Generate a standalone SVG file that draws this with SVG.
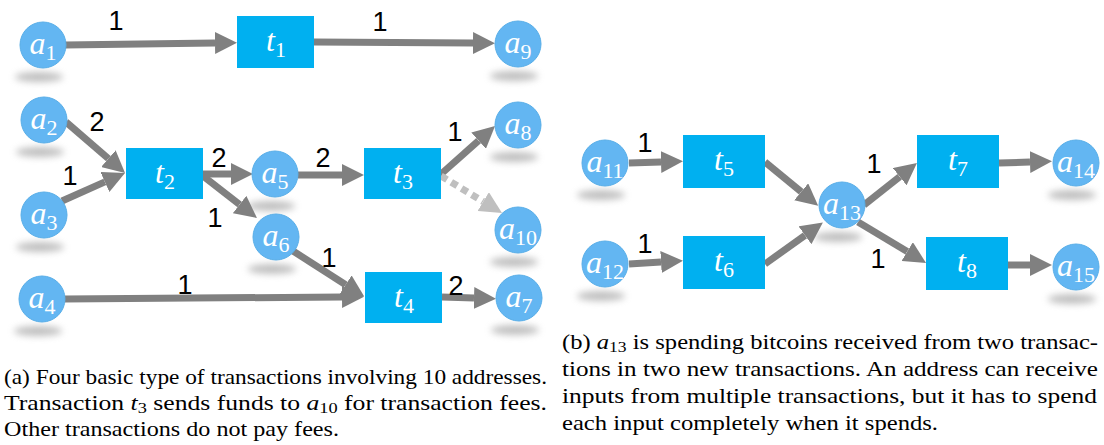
<svg xmlns="http://www.w3.org/2000/svg" width="1104" height="445" viewBox="0 0 1104 445">
<style>
.n{fill:#63b6f2;stroke:#58aee8;stroke-width:1}
.r{fill:#00b0f0}
.sh{fill:#8a8a8a;opacity:0.55;filter:url(#blur)}
.e{stroke:#808080;stroke-width:7;fill:none;marker-end:url(#ah)}
.d{stroke:#bfbfbf;stroke-width:7;fill:none;stroke-dasharray:7 5;marker-end:url(#ahl)}
.lab{font-family:"Liberation Sans",Arial,sans-serif;font-size:27px;fill:#000;text-anchor:middle}
.m{font-family:"Liberation Serif","DejaVu Serif",serif;font-style:italic;font-size:32px;fill:#fff;text-anchor:middle}
.s{font-style:normal;font-size:22px}
.cap{font-family:"Liberation Serif","DejaVu Serif",serif;font-size:21px;fill:#000}
.ci{font-style:italic}
.cs{font-size:15px}
</style>
<defs>
<filter id="blur" x="-50%" y="-100%" width="200%" height="300%"><feGaussianBlur stdDeviation="3.5"/></filter>
<marker id="ah" markerUnits="userSpaceOnUse" markerWidth="22" markerHeight="22" refX="0" refY="11" orient="auto"><path d="M0,0 L22,11 L0,22 z" fill="#808080"/></marker>
<marker id="ahl" markerUnits="userSpaceOnUse" markerWidth="22" markerHeight="22" refX="0" refY="11" orient="auto"><path d="M0,0 L22,11 L0,22 z" fill="#bfbfbf"/></marker>
</defs>

<g id="shadows">
<ellipse class="sh" cx="39" cy="77" rx="24" ry="5"/>
<ellipse class="sh" cx="514" cy="76" rx="24" ry="5"/>
<ellipse class="sh" cx="40" cy="152" rx="24" ry="5"/>
<ellipse class="sh" cx="40" cy="247" rx="24" ry="5"/>
<ellipse class="sh" cx="38" cy="331" rx="24" ry="5"/>
<ellipse class="sh" cx="271" cy="206" rx="24" ry="5"/>
<ellipse class="sh" cx="272" cy="269" rx="24" ry="5"/>
<ellipse class="sh" cx="514" cy="157" rx="24" ry="5"/>
<ellipse class="sh" cx="514" cy="262" rx="24" ry="5"/>
<ellipse class="sh" cx="515" cy="330" rx="24" ry="5"/>
<ellipse class="sh" cx="601" cy="195" rx="24" ry="5"/>
<ellipse class="sh" cx="601" cy="296" rx="24" ry="5"/>
<ellipse class="sh" cx="838" cy="237" rx="24" ry="5"/>
<ellipse class="sh" cx="1072" cy="195" rx="24" ry="5"/>
<ellipse class="sh" cx="1072" cy="299" rx="24" ry="5"/>
</g>

<g id="connectors">
<line class="e" x1="65" y1="45" x2="215" y2="43"/>
<line class="e" x1="314" y1="42" x2="473" y2="43"/>
<line class="e" x1="66" y1="122" x2="108.4" y2="158.6"/>
<line class="e" x1="62" y1="201" x2="104.9" y2="181.9"/>
<line class="e" x1="203" y1="174" x2="231" y2="174"/>
<line class="e" x1="203" y1="176" x2="239.6" y2="204.5"/>
<line class="e" x1="298" y1="175" x2="342" y2="175"/>
<line class="e" x1="440" y1="175" x2="478.6" y2="140.6"/>
<line class="d" x1="441" y1="176" x2="483.2" y2="201.6"/>
<line class="e" x1="65" y1="299" x2="342" y2="297"/>
<line class="e" x1="293" y1="251" x2="345.7" y2="284.7"/>
<line class="e" x1="442" y1="297" x2="474" y2="298"/>
<line class="e" x1="629" y1="163" x2="661" y2="162"/>
<line class="e" x1="629" y1="264" x2="661" y2="262"/>
<line class="e" x1="765" y1="162" x2="801.2" y2="191.8"/>
<line class="e" x1="765" y1="264" x2="805" y2="235.3"/>
<line class="e" x1="864" y1="205" x2="899.7" y2="176.7"/>
<line class="e" x1="858" y1="222" x2="907.2" y2="251.6"/>
<line class="e" x1="999" y1="163" x2="1030" y2="162"/>
<line class="e" x1="1008" y1="265" x2="1030" y2="265"/>
</g>

<g id="labels">
<text class="lab" x="116" y="30">1</text>
<text class="lab" x="380" y="31">1</text>
<text class="lab" x="97" y="131">2</text>
<text class="lab" x="70" y="185">1</text>
<text class="lab" x="219" y="167">2</text>
<text class="lab" x="215" y="227">1</text>
<text class="lab" x="323" y="167">2</text>
<text class="lab" x="455" y="141">1</text>
<text class="lab" x="329" y="267">1</text>
<text class="lab" x="185" y="294">1</text>
<text class="lab" x="456" y="295">2</text>
<text class="lab" x="645" y="152">1</text>
<text class="lab" x="645" y="253">1</text>
<text class="lab" x="874" y="173">1</text>
<text class="lab" x="878" y="268">1</text>
</g>

<g id="a1"><circle class="n" cx="43" cy="45" r="23"/><text class="m" x="43" y="54">a<tspan class="s" dy="6">1</tspan></text></g>
<g id="a9"><circle class="n" cx="518" cy="44" r="23"/><text class="m" x="518" y="53">a<tspan class="s" dy="6">9</tspan></text></g>
<g id="a2"><circle class="n" cx="44" cy="120" r="23"/><text class="m" x="44" y="129">a<tspan class="s" dy="6">2</tspan></text></g>
<g id="a3"><circle class="n" cx="44" cy="215" r="23"/><text class="m" x="44" y="224">a<tspan class="s" dy="6">3</tspan></text></g>
<g id="a4"><circle class="n" cx="42" cy="299" r="23"/><text class="m" x="42" y="308">a<tspan class="s" dy="6">4</tspan></text></g>
<g id="a5"><circle class="n" cx="275" cy="174" r="23"/><text class="m" x="275" y="183">a<tspan class="s" dy="6">5</tspan></text></g>
<g id="a6"><circle class="n" cx="276" cy="237" r="23"/><text class="m" x="276" y="246">a<tspan class="s" dy="6">6</tspan></text></g>
<g id="a8"><circle class="n" cx="518" cy="125" r="23"/><text class="m" x="518" y="134">a<tspan class="s" dy="6">8</tspan></text></g>
<g id="a10"><circle class="n" cx="518" cy="230" r="23"/><text class="m" x="518" y="239">a<tspan class="s" dy="6">10</tspan></text></g>
<g id="a7"><circle class="n" cx="519" cy="298" r="23"/><text class="m" x="519" y="307">a<tspan class="s" dy="6">7</tspan></text></g>

<g id="t1"><rect class="r" x="237" y="16" width="77" height="52"/><text class="m" x="276" y="51">t<tspan class="s" dy="6">1</tspan></text></g>
<g id="t2"><rect class="r" x="126" y="148" width="77" height="51"/><text class="m" x="165" y="183">t<tspan class="s" dy="6">2</tspan></text></g>
<g id="t3"><rect class="r" x="364" y="148" width="77" height="51"/><text class="m" x="403" y="183">t<tspan class="s" dy="6">3</tspan></text></g>
<g id="t4"><rect class="r" x="365" y="272" width="77" height="51"/><text class="m" x="404" y="307">t<tspan class="s" dy="6">4</tspan></text></g>

<g id="a11"><circle class="n" cx="605" cy="163" r="23"/><text class="m" x="605" y="172">a<tspan class="s" dy="6">11</tspan></text></g>
<g id="a12"><circle class="n" cx="605" cy="264" r="23"/><text class="m" x="605" y="273">a<tspan class="s" dy="6">12</tspan></text></g>
<g id="a13"><circle class="n" cx="842" cy="205" r="23"/><text class="m" x="842" y="214">a<tspan class="s" dy="6">13</tspan></text></g>
<g id="a14"><circle class="n" cx="1076" cy="163" r="23"/><text class="m" x="1076" y="172">a<tspan class="s" dy="6">14</tspan></text></g>
<g id="a15"><circle class="n" cx="1076" cy="267" r="23"/><text class="m" x="1076" y="276">a<tspan class="s" dy="6">15</tspan></text></g>

<g id="t5"><rect class="r" x="683" y="135" width="82" height="53"/><text class="m" x="724" y="170">t<tspan class="s" dy="6">5</tspan></text></g>
<g id="t6"><rect class="r" x="683" y="236" width="82" height="53"/><text class="m" x="724" y="271">t<tspan class="s" dy="6">6</tspan></text></g>
<g id="t7"><rect class="r" x="917" y="135" width="82" height="53"/><text class="m" x="958" y="170">t<tspan class="s" dy="6">7</tspan></text></g>
<g id="t8"><rect class="r" x="926" y="237" width="82" height="53"/><text class="m" x="967" y="272">t<tspan class="s" dy="6">8</tspan></text></g>

<g id="caption-a">
<text class="cap" x="4" y="384" textLength="543" lengthAdjust="spacingAndGlyphs">(a) Four basic type of transactions involving 10 addresses.</text>
<text class="cap" x="4" y="410" textLength="543" lengthAdjust="spacingAndGlyphs">Transaction <tspan class="ci">t</tspan><tspan class="cs" dy="3">3</tspan><tspan dy="-3"> sends funds to </tspan><tspan class="ci">a</tspan><tspan class="cs" dy="3">10</tspan><tspan dy="-3"> for transaction fees.</tspan></text>
<text class="cap" x="4" y="436" textLength="335" lengthAdjust="spacingAndGlyphs">Other transactions do not pay fees.</text>
</g>
<g id="caption-b">
<text class="cap" x="562" y="349" textLength="536" lengthAdjust="spacingAndGlyphs">(b) <tspan class="ci">a</tspan><tspan class="cs" dy="3">13</tspan><tspan dy="-3"> is spending bitcoins received from two transac-</tspan></text>
<text class="cap" x="562" y="376" textLength="536" lengthAdjust="spacingAndGlyphs">tions in two new transactions. An address can receive</text>
<text class="cap" x="562" y="403" textLength="535" lengthAdjust="spacingAndGlyphs">inputs from multiple transactions, but it has to spend</text>
<text class="cap" x="562" y="430" textLength="376" lengthAdjust="spacingAndGlyphs">each input completely when it spends.</text>
</g>
</svg>
